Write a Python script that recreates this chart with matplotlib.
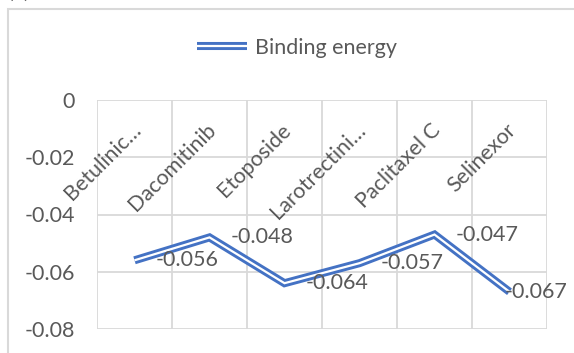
import matplotlib
matplotlib.use("Agg")
import matplotlib.pyplot as plt
import matplotlib.patheffects as pe
from matplotlib.patches import Rectangle

categories = ["Betulinic…", "Dacomitinib", "Etoposide", "Larotrectini…", "Paclitaxel C", "Selinexor"]
binding_energy = [-0.056, -0.048, -0.064, -0.057, -0.047, -0.067]
data_labels = ["-0.056", "-0.048", "-0.064", "-0.057", "-0.047", "-0.067"]
y_ticks = [0, -0.02, -0.04, -0.06, -0.08]
y_tick_labels = ["0", "-0.02", "-0.04", "-0.06", "-0.08"]
series_name = "Binding energy"

plt.rcParams['font.family'] = ['Lato', 'DejaVu Sans']
TXT = "#595959"
GRID = "#D9D9D9"
BLUE = "#4472C4"
FS = 15.5

W, H = 574, 353
fig = plt.figure(figsize=(W / 100, H / 100), dpi=100)
fig.patch.set_facecolor("white")

# chart border
fig.add_artist(Rectangle((8 / W, -0.1), 2, (353 - 9) / H + 0.1, transform=fig.transFigure,
                         fill=False, edgecolor=GRID, linewidth=1.5))
# partially visible panel label at top
fig.text(8 / W, 1 + 2 / H, "(c)", fontsize=FS, color=TXT, ha="left", va="baseline")

ax = fig.add_axes([97 / W, 1 - 329 / H, (547 - 97) / W, (329 - 100) / H])
x = list(range(len(categories)))
ax.set_xlim(-0.5, len(categories) - 0.5)
ax.set_ylim(-0.08, 0)

for s in ax.spines.values():
    s.set_visible(False)
ax.set_xticks([])
ax.set_yticks(y_ticks)
ax.set_yticklabels(y_tick_labels, fontsize=FS, color=TXT)
ax.tick_params(axis="y", length=0, pad=16)
for yv in y_ticks:
    ax.axhline(yv, color=GRID, lw=1.3, zorder=1)
for xb in [i - 0.5 for i in range(len(categories) + 1)]:
    ax.axvline(xb, color=GRID, lw=1.3, zorder=1)

line, = ax.plot(x, binding_energy, color="white", lw=1.6, label=series_name,
                solid_joinstyle="miter", solid_capstyle="butt", zorder=3,
                path_effects=[pe.Stroke(linewidth=5.8, foreground=BLUE, joinstyle="miter", capstyle="butt"),
                              pe.Normal()])

labels = []
for xi, yi, lab in zip(x, binding_energy, data_labels):
    t = ax.annotate(lab, xy=(xi, yi), xytext=(21, 0), textcoords="offset pixels",
                    ha="left", va="center", fontsize=FS, color=TXT, zorder=4)
    labels.append(t)

for xi, cat in zip(x, categories):
    ax.annotate(cat, xy=(xi, 0), xytext=(3, -27), textcoords="offset pixels",
                ha="right", va="center", rotation=45, rotation_mode="anchor",
                fontsize=FS, color=TXT, zorder=4)

leg = fig.legend(handles=[line], loc="center", bbox_to_anchor=(297 / W, 1 - 48 / H),
                 frameon=False, fontsize=FS, handlelength=2.3, handletextpad=0.35,
                 labelcolor=TXT)

# keep data labels inside the chart area (like the spreadsheet does)
fig.canvas.draw()
r = fig.canvas.get_renderer()
for t in labels:
    bb = t.get_window_extent(r)
    limit = W - 6
    if bb.x1 > limit:
        t.set_position((21 - (bb.x1 - limit), 0))

fig.savefig("out.png", dpi=100, facecolor="white")
